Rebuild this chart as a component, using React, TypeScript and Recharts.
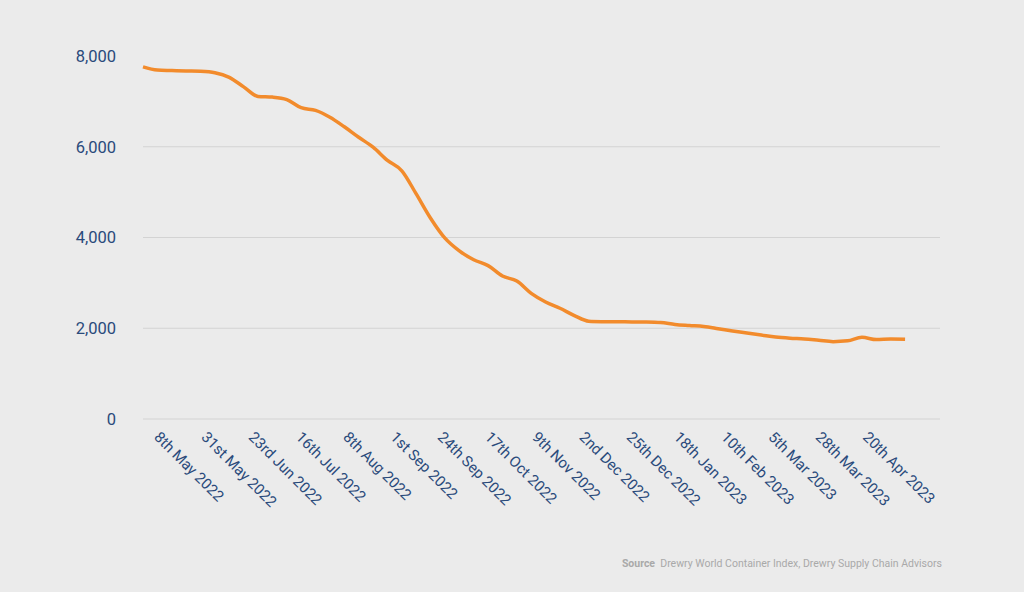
import React from "react";
import { CartesianGrid, Line, LineChart, XAxis, YAxis } from "recharts";

// weekly index readings, day 0 = first observation
const days = [
  0, 7, 14, 21, 28, 35, 42, 49, 56, 63, 70, 77, 84, 91, 98, 105, 112, 119, 126, 133, 140, 147, 154, 161, 168, 175, 182,
  189, 196, 203, 210, 217, 224, 231, 238, 245, 252, 259, 266, 273, 280, 287, 294, 301, 308, 315, 322, 329, 336, 343,
  350, 357, 364, 371,
];

const values = [
  7760, 7690, 7680, 7670, 7662, 7630, 7530, 7320, 7110, 7095, 7040, 6860, 6800, 6650, 6440, 6210, 5990, 5700, 5470,
  4960, 4425, 3985, 3705, 3510, 3380, 3150, 3040, 2770, 2580, 2440, 2280, 2155, 2145, 2142, 2140, 2137, 2125, 2085,
  2060, 2037, 1990, 1940, 1895, 1850, 1805, 1780, 1765, 1735, 1705, 1722, 1800, 1750, 1762, 1758,
];

const tickDays = [5, 28, 51, 74, 97, 120, 143, 166, 189, 212, 235, 258, 281, 304, 327, 350];
const tickLabels = [
  "8th May 2022",
  "31st May 2022",
  "23rd Jun 2022",
  "16th Jul 2022",
  "8th Aug 2022",
  "1st Sep 2022",
  "24th Sep 2022",
  "17th Oct 2022",
  "9th Nov 2022",
  "2nd Dec 2022",
  "25th Dec 2022",
  "18th Jan 2023",
  "10th Feb 2023",
  "5th Mar 2023",
  "28th Mar 2023",
  "20th Apr 2023",
];

const yTicks = [0, 2000, 4000, 6000, 8000];

const data = days.map((day, i) => ({ day, wci: values[i] }));

const TEXT = "#2a4a7b";
const FONT = "Roboto, 'DejaVu Sans', sans-serif";

function DateTick(props: any) {
  const { x, y, payload } = props;
  const idx = tickDays.indexOf(payload.value);
  return (
    <text
      x={x}
      y={y}
      transform={`rotate(45 ${x} ${y})`}
      textAnchor="start"
      fill={TEXT}
      fontSize={15}
      fontFamily={FONT}
    >
      {idx >= 0 ? tickLabels[idx] : ""}
    </text>
  );
}

export default function App() {
  return (
    <div
      style={{
        position: "absolute",
        left: 0,
        top: 0,
        width: 1024,
        height: 592,
        background: "#ebebeb",
        fontFamily: FONT,
      }}
    >
      <LineChart width={1024} height={592} data={data} margin={{ top: 56, right: 84, bottom: 73, left: 83 }}>
        <CartesianGrid vertical={false} stroke="#d3d3d3" strokeWidth={1} horizontalValues={[0, 2000, 4000, 6000]} />
        <XAxis
          dataKey="day"
          type="number"
          domain={[0, 388]}
          ticks={tickDays}
          interval={0}
          axisLine={false}
          tickLine={false}
          tickSize={0}
          tickMargin={19}
          height={100}
          tick={<DateTick />}
        />
        <YAxis
          domain={[0, 8000]}
          ticks={yTicks}
          width={60}
          axisLine={false}
          tickLine={false}
          tickSize={0}
          tickMargin={27}
          tick={{ fill: TEXT, fontSize: 16.5, fontFamily: FONT }}
          tickFormatter={(v: number) => v.toLocaleString("en-US")}
        />
        <Line
          type="monotone"
          dataKey="wci"
          stroke="#f28b2c"
          strokeWidth={3.5}
          dot={false}
          isAnimationActive={false}
        />
      </LineChart>
      <div
        style={{
          position: "absolute",
          right: 82,
          top: 557,
          fontSize: 10.5,
          color: "#a9a9a9",
          fontFamily: FONT,
          whiteSpace: "nowrap",
        }}
      >
        <b>Source</b>&nbsp; Drewry World Container Index, Drewry Supply Chain Advisors
      </div>
    </div>
  );
}
